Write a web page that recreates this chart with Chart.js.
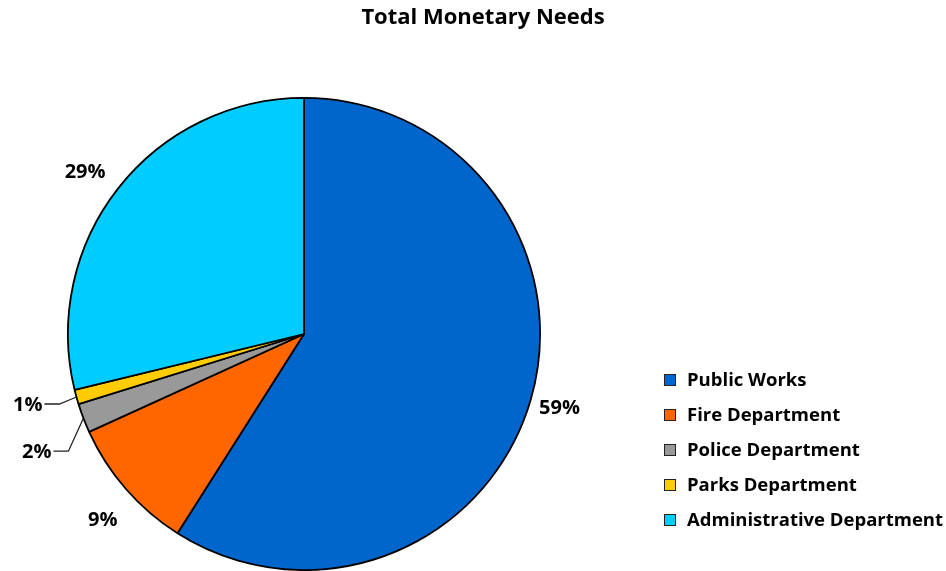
<!DOCTYPE html>
<html><head><meta charset="utf-8">
<script src="https://cdn.jsdelivr.net/npm/chart.js@4"></script>
<style>html,body{margin:0;padding:0;background:#fff;overflow:hidden}#wrap{width:946px;height:571px;position:relative}</style>
</head>
<body><div id="wrap"><canvas id="c" width="946" height="571"></canvas></div>
<script>
const categories = ['Public Works','Fire Department','Police Department','Parks Department','Administrative Department'];
const values = [59.0, 9.2, 2.0, 1.0, 28.8];
const percentLabels = ['59%','9%','2%','1%','29%'];
const colors = ['#0066CC','#FF6600','#999999','#FFCC00','#00CCFF'];
const chartTitle = 'Total Monetary Needs';

const FONT = '"Open Sans", Lato, sans-serif';

const titlePlugin = {
  id: 'customTitle',
  afterDraw(chart) {
    const ctx = chart.ctx;
    ctx.save();
    ctx.font = 'bold 22px ' + FONT;
    ctx.fillStyle = '#000';
    ctx.textAlign = 'center';
    ctx.textBaseline = 'middle';
    ctx.fillText(chartTitle, 483, 18);
    ctx.restore();
  }
};

const labelPlugin = {
  id: 'sliceLabels',
  afterDatasetsDraw(chart) {
    const ctx = chart.ctx;
    const meta = chart.getDatasetMeta(0);
    const radialGap = [30, 38, 0, 0, 36];
    const angleShift = [0, -0.03, 0, 0, -0.03];
    const leaders = { 2: {ex: -15, ey: 33, len: 15}, 3: {ex: -17, ey: 7, len: 15} };
    ctx.save();
    ctx.font = 'bold 20px ' + FONT;
    ctx.fillStyle = '#000';
    ctx.textBaseline = 'middle';
    meta.data.forEach((arc, i) => {
      const p = arc.getProps(['x','y','startAngle','endAngle','outerRadius'], true);
      const mid = (p.startAngle + p.endAngle) / 2 + angleShift[i];
      const dx = Math.cos(mid), dy = Math.sin(mid);
      if (leaders[i]) {
        const L = leaders[i];
        const edgeX = p.x + dx * p.outerRadius, edgeY = p.y + dy * p.outerRadius;
        const elbowX = edgeX + L.ex, elbowY = edgeY + L.ey;
        ctx.strokeStyle = '#222';
        ctx.lineWidth = 1.3;
        ctx.beginPath();
        ctx.moveTo(edgeX, edgeY);
        ctx.lineTo(elbowX, elbowY);
        ctx.lineTo(elbowX - L.len, elbowY);
        ctx.stroke();
        ctx.textAlign = 'right';
        ctx.fillText(percentLabels[i], elbowX - L.len - 2, elbowY + 1);
      } else {
        const d = p.outerRadius + radialGap[i];
        ctx.textAlign = 'center';
        ctx.fillText(percentLabels[i], p.x + dx * d, p.y + dy * d);
      }
    });
    ctx.restore();
  }
};

const legendPlugin = {
  id: 'customLegend',
  afterDraw(chart) {
    const ctx = chart.ctx;
    ctx.save();
    ctx.font = 'bold 18.5px ' + FONT;
    ctx.textBaseline = 'middle';
    ctx.textAlign = 'left';
    categories.forEach((c, i) => {
      const y = 380 + i * 35;
      ctx.fillStyle = colors[i];
      ctx.fillRect(664, y - 6, 12, 12);
      ctx.strokeStyle = '#222';
      ctx.lineWidth = 1;
      ctx.strokeRect(664.5, y - 5.5, 11, 11);
      ctx.fillStyle = '#000';
      ctx.fillText(c, 687, y + 1);
    });
    ctx.restore();
  }
};

new Chart(document.getElementById('c'), {
  type: 'pie',
  data: {
    labels: categories,
    datasets: [{
      data: values,
      backgroundColor: colors,
      borderColor: '#000',
      borderWidth: 1.8,
      hoverOffset: 0
    }]
  },
  options: {
    responsive: false,
    devicePixelRatio: 1,
    animation: false,
    layout: { padding: { left: 67, right: 405, top: 97, bottom: 0 } },
    plugins: { legend: { display: false }, title: { display: false }, tooltip: { enabled: false } }
  },
  plugins: [titlePlugin, labelPlugin, legendPlugin]
});
</script>
</body></html>
